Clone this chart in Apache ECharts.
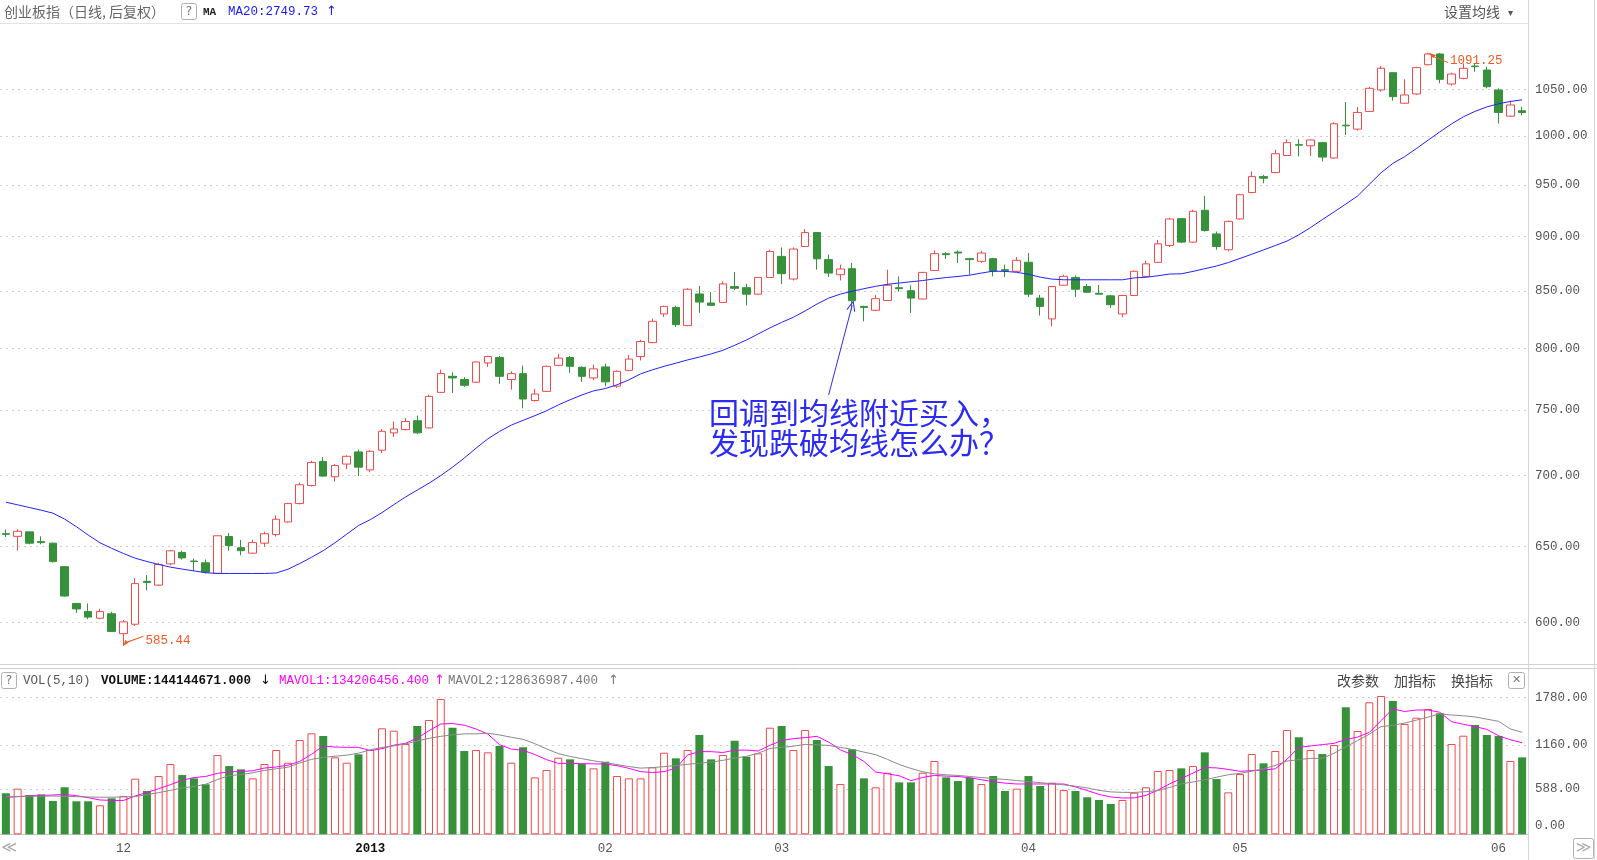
<!DOCTYPE html>
<html>
<head>
<meta charset="utf-8">
<title>创业板指 日线</title>
<script src="https://cdn.jsdelivr.net/npm/echarts@6/dist/echarts.min.js"></script>
<style>
html,body{margin:0;padding:0;background:#fff;}
#main{width:1597px;height:860px;}
</style>
</head>
<body>
<div id="main"></div>
<script>
// trading days, Nov 2012 - Jun 2013
var tradeMonths = [
    ['2012-11', [19,20,21,22,23,26,27,28,29,30]],
    ['2012-12', [3,4,5,6,7,10,11,12,13,14,17,18,19,20,21,24,25,26,27,28,31]],
    ['2013-01', [4,7,8,9,10,11,14,15,16,17,18,21,22,23,24,25,28,29,30,31]],
    ['2013-02', [1,4,5,6,7,8,18,19,20,21,22,25,26,27,28]],
    ['2013-03', [1,4,5,6,7,8,11,12,13,14,15,18,19,20,21,22,25,26,27,28,29]],
    ['2013-04', [1,2,3,8,9,10,11,12,15,16,17,18,19,22,23,24,25,26]],
    ['2013-05', [2,3,6,7,8,9,10,13,14,15,16,17,20,21,22,23,24,27,28,29,30,31]],
    ['2013-06', [3,4,5]]
];

var opens = [658.6,656.8,659.9,653.2,652.1,636.2,612.1,607.0,602.7,605.5,
    593.0,598.9,626.5,624.0,638.1,645.8,640.0,638.8,631.8,656.7,
    649.0,645.3,652.1,658.0,666.8,679.8,692.8,710.6,699.2,708.6,
    717.7,704.3,719.0,732.2,734.7,741.6,736.0,764.0,777.0,774.4,
    772.2,788.0,792.5,774.4,779.2,757.5,764.8,786.0,792.5,784.4,
    775.7,784.7,769.0,781.9,793.3,805.0,829.6,835.3,819.5,847.2,
    839.2,839.7,853.8,852.8,847.0,862.0,881.3,860.6,890.5,903.6,
    878.3,864.5,870.0,836.2,832.8,841.4,852.8,850.1,842.7,868.4,
    883.8,885.3,879.2,876.7,879.2,869.1,867.6,875.9,843.5,825.3,
    855.0,862.0,853.8,847.8,845.5,829.6,845.8,863.0,875.8,891.5,
    916.9,894.6,925.0,902.3,887.5,916.6,942.4,958.3,962.4,979.8,
    991.0,989.8,993.1,977.2,1011.5,1007.3,1026.2,1049.6,1068.8,1035.1,
    1045.2,1077.8,1090.0,1056.2,1062.5,1076.3,1071.8,1049.6,1021.1,1026.9];

var closes = [658.2,660.3,652.1,652.5,639.6,616.9,608.6,603.4,607.0,594.4,
    600.4,625.0,625.7,637.7,646.9,642.1,639.6,632.6,657.2,650.4,
    647.0,652.5,658.6,668.7,679.8,693.4,709.8,699.7,707.5,714.4,
    706.3,718.2,733.4,735.2,741.0,732.2,760.8,779.2,775.7,769.7,
    788.8,793.3,777.0,779.2,758.7,762.7,785.2,792.0,785.2,777.0,
    783.1,772.5,781.1,791.2,805.9,823.2,836.2,820.3,851.4,840.0,
    837.1,856.2,852.3,847.0,862.0,885.9,865.4,888.1,903.6,879.0,
    866.0,869.7,841.2,835.3,843.0,855.0,851.9,843.5,866.6,883.8,
    882.9,884.4,878.3,884.4,867.6,868.2,877.7,847.0,836.2,853.8,
    863.0,851.4,848.7,847.0,837.7,845.8,867.6,874.4,893.0,916.6,
    894.6,924.0,905.6,890.5,914.3,940.2,958.3,956.7,981.6,993.1,
    990.5,995.9,978.2,1013.0,1010.8,1025.1,1051.4,1073.8,1042.2,1044.1,
    1074.5,1090.0,1061.4,1067.3,1073.8,1075.6,1053.2,1025.1,1033.2,1025.0];

var lows = [656.3,647.0,651.3,651.3,639.0,616.5,606.0,602.0,602.0,594.0,
    585.44,597.8,620.6,623.5,637.0,641.0,633.3,631.7,631.5,647.0,
    643.8,644.9,649.7,656.7,666.3,679.2,692.1,699.2,695.7,704.8,
    699.7,702.5,716.9,729.1,734.2,731.4,735.5,763.5,763.5,768.4,
    771.7,784.7,770.9,766.2,751.3,756.7,764.3,785.2,779.8,772.5,
    773.8,769.0,767.6,781.1,790.1,804.5,827.0,818.4,819.0,830.5,
    837.0,839.2,850.7,837.1,846.5,861.5,856.0,859.3,890.0,869.1,
    862.4,859.3,832.8,823.2,832.2,841.0,849.2,830.5,842.5,868.0,
    878.9,875.3,864.5,875.3,863.0,862.4,867.0,844.4,828.2,818.9,
    854.7,844.4,848.4,846.9,834.8,826.7,845.5,862.4,875.3,890.0,
    893.7,894.0,904.6,887.5,886.0,915.9,941.7,951.6,961.8,979.5,
    978.8,979.5,973.7,976.5,1001.1,1005.8,1025.6,1047.7,1037.8,1034.3,
    1044.1,1077.0,1057.0,1054.3,1061.4,1069.9,1051.4,1013.2,1020.5,1022.0];

var highs = [661.5,661.7,660.0,656.8,652.5,636.5,612.3,612.1,608.6,606.8,
    601.5,628.5,630.7,638.8,647.5,647.0,641.6,641.0,657.5,659.1,
    654.4,654.4,660.0,671.5,680.3,695.0,711.1,713.9,708.6,715.1,
    719.5,719.0,735.2,741.0,743.6,745.6,762.2,782.5,780.3,776.2,
    789.3,793.9,793.9,781.1,785.8,766.8,785.8,795.5,793.9,785.2,
    786.6,787.4,781.9,794.7,807.3,825.6,836.8,836.8,852.3,854.4,
    848.7,858.4,866.9,856.2,862.4,887.5,889.6,889.6,906.9,904.0,
    882.9,873.7,875.3,836.8,846.4,869.1,863.0,855.0,867.0,886.8,
    885.3,886.8,879.8,886.5,880.0,873.7,880.7,884.4,846.4,854.5,
    864.5,863.7,856.2,855.3,846.4,846.4,868.2,877.4,896.7,917.6,
    917.6,925.6,939.2,904.6,915.0,941.2,963.4,960.1,985.7,996.6,
    996.6,996.5,994.0,1014.6,1036.3,1031.0,1053.1,1076.3,1069.0,1061.4,
    1075.6,1091.25,1091.0,1068.8,1079.2,1079.2,1075.6,1051.4,1037.8,1031.4];

// MA20
var ma20 = [680.8,678.9,677.0,675.1,673.0,668.8,663.5,657.7,652.4,648.6,
    645.1,641.9,639.7,637.7,635.9,634.6,633.4,632.2,631.7,631.7,
    631.7,631.7,631.7,632.0,634.5,638.3,642.5,647.0,652.4,658.3,
    664.3,668.4,673.4,679.0,684.5,689.5,694.5,700.1,706.3,713.1,
    720.5,727.6,733.3,738.2,741.9,745.5,749.4,754.0,758.1,761.9,
    765.2,767.1,770.1,774.1,779.0,782.3,785.2,787.8,790.5,792.9,
    795.5,798.5,802.7,807.2,812.3,817.5,822.3,826.7,832.2,838.2,
    843.5,847.1,849.6,851.9,854.0,855.8,857.0,858.1,859.2,860.7,
    861.9,862.9,864.1,866.0,867.7,867.5,866.7,864.9,862.3,860.5,
    859.9,859.9,859.9,859.9,859.9,859.9,861.6,862.2,863.5,865.1,
    865.3,867.5,870.0,872.4,875.6,879.4,883.3,887.3,891.4,895.6,
    901.5,908.4,916.0,923.4,931.1,939.0,950.6,962.2,971.7,978.6,
    986.9,995.7,1004.4,1012.9,1020.4,1026.3,1031.1,1034.5,1037.0,1038.8];

var volumes = [533,593,511,519,433,611,429,429,377,468,
    498,723,563,757,913,770,727,650,1030,887,
    844,727,913,1095,930,1225,1312,1277,1000,930,
    1039,1095,1377,1346,1173,1407,1485,1758,1385,1082,
    1095,1065,1147,930,1130,740,835,995,974,913,
    857,943,757,727,727,870,1060,987,1095,1290,
    974,1030,1216,1008,1052,1385,1407,1095,1355,1225,
    887,653,1104,727,611,800,675,675,800,952,
    740,692,735,653,757,563,593,757,628,671,
    575,563,481,446,394,446,541,611,822,835,
    857,887,1065,718,545,783,1043,922,1082,1355,
    1260,1095,1043,1160,1650,1342,1715,1797,1732,1433,
    1515,1628,1572,1173,1281,1420,1290,1277,952,1000];

var mavol5 = [480,489,498,504,511,517,502,476,446,441,
    439,498,543,593,645,702,737,752,792,812,
    816,825,861,875,898,947,1039,1147,1134,1130,
    1130,1088,1113,1158,1182,1251,1347,1433,1440,1417,
    1369,1303,1165,1107,1091,1037,970,922,922,918,
    916,913,892,857,814,803,814,861,1030,1074,
    1074,1063,1093,1094,1082,1156,1218,1243,1256,1273,
    1199,1097,1035,948,809,786,761,697,739,765,
    756,751,735,709,684,665,654,654,654,654,
    654,615,569,519,485,472,473,506,574,654,
    725,796,867,863,843,819,827,835,851,975,
    1129,1148,1165,1182,1230,1264,1324,1477,1630,1595,
    1615,1615,1585,1463,1429,1400,1363,1280,1228,1191];

var mavol10 = [489,491,493,495,498,493,489,485,482,482,
    486,490,515,541,571,603,621,650,712,762,
    776,799,830,851,872,927,974,998,1015,1028,
    1054,1098,1128,1149,1174,1212,1248,1273,1292,1305,
    1306,1313,1291,1261,1234,1178,1110,1048,1012,983,
    955,931,906,880,860,867,879,893,910,924,
    938,961,991,1013,1053,1115,1130,1145,1168,1163,
    1155,1129,1103,1068,1035,974,907,856,812,786,
    773,765,751,737,725,713,699,685,671,657,
    642,626,602,571,551,545,544,554,567,608,
    656,680,708,742,774,793,820,851,895,952,
    970,987,987,1054,1137,1218,1301,1400,1416,1446,
    1483,1523,1566,1550,1540,1525,1496,1468,1369,1326];

var priceTicks = [600, 650, 700, 750, 800, 850, 900, 950, 1000, 1050];
var volTicks = [0, 588, 1160, 1780];

var RED = '#f04a4a';
var GREEN = '#37913a';
var MONO = '"Liberation Mono", "DejaVu Sans Mono", monospace';
var CJK = '"Noto Sans CJK SC", sans-serif';

var dates = [];
var monthStart = [];
tradeMonths.forEach(function (m) {
    m[1].forEach(function (d, k) {
        dates.push(m[0] + '-' + (d < 10 ? '0' + d : d));
        monthStart.push(k === 0 && m[0] !== '2012-11');
    });
});

var candles = opens.map(function (o, i) {
    return [o, closes[i], lows[i], highs[i]];
});
var volBars = volumes.map(function (v, i) {
    var up = closes[i] >= opens[i];
    return {
        value: v,
        itemStyle: up ? {color: '#fff', borderColor: RED, borderWidth: 1} : {color: GREEN}
    };
});

// lowest low / highest high for the price tags
var lowIdx = 0, highIdx = 0;
for (var i = 1; i < lows.length; i++) {
    if (lows[i] < lows[lowIdx]) lowIdx = i;
    if (highs[i] > highs[highIdx]) highIdx = i;
}

function txt(x, y, text, font, fill, align) {
    return {type: 'text', x: x, y: y, silent: true, z: 100,
        style: {text: text, font: font, fill: fill, align: align || 'left', verticalAlign: 'middle'}};
}
function line(x1, y1, x2, y2, color) {
    return {type: 'line', silent: true, z: 90,
        shape: {x1: x1, y1: y1, x2: x2, y2: y2}, style: {stroke: color, lineWidth: 1}};
}
function box(x, y, w, h) {
    return {type: 'rect', silent: true, z: 95,
        shape: {x: x, y: y, width: w, height: h, r: 2}, style: {fill: '#fff', stroke: '#b0b0b0', lineWidth: 1}};
}

var graphics = [
    line(0, 23.5, 1528, 23.5, '#e3e3e3'),
    line(1528.5, 0, 1528.5, 860, '#d6d6d6'),
    line(1594.5, 0, 1594.5, 860, '#d6d6d6'),
    line(0, 664.5, 1597, 664.5, '#d0d0d0'),
    line(0, 668.5, 1597, 668.5, '#d0d0d0'),

    txt(4, 12, '创业板指（日线, 后复权）', '14px ' + CJK, '#666'),
    box(181.5, 3.5, 15, 16),
    txt(189, 12, '?', '12px "DejaVu Sans"', '#777', 'center'),
    txt(203, 12, 'MA', 'bold 11px ' + MONO, '#222'),
    txt(228, 12, 'MA20:2749.73', '12.5px ' + MONO, '#1a1aff'),
    txt(326, 12, '↑', '13px "DejaVu Sans"', '#1a1aff'),
    txt(1444, 12, '设置均线', '14px ' + CJK, '#555'),
    txt(1508, 13, '▾', '10px "DejaVu Sans"', '#555'),

    box(1.5, 672.5, 15, 16),
    txt(9, 680.5, '?', '12px "DejaVu Sans"', '#777', 'center'),
    txt(23, 680.5, 'VOL(5,10)', '12.5px ' + MONO, '#555'),
    txt(101, 680.5, 'VOLUME:144144671.000', 'bold 12.5px ' + MONO, '#111'),
    txt(260, 680.5, '↓', '13px "DejaVu Sans"', '#111'),
    txt(279, 680.5, 'MAVOL1:134206456.400', '12.5px ' + MONO, '#ff00ff'),
    txt(434, 680.5, '↑', '13px "DejaVu Sans"', '#ff00ff'),
    txt(448, 680.5, 'MAVOL2:128636987.400', '12.5px ' + MONO, '#777'),
    txt(608, 680.5, '↑', '13px "DejaVu Sans"', '#777'),
    txt(1337, 680.5, '改参数', '14px ' + CJK, '#444'),
    txt(1394, 680.5, '加指标', '14px ' + CJK, '#444'),
    txt(1451, 680.5, '换指标', '14px ' + CJK, '#444'),
    box(1508.5, 672.5, 16, 16),
    txt(1516.5, 680.5, '✕', '11px "DejaVu Sans"', '#777', 'center'),

    txt(9, 848.5, '≪', '15px "DejaVu Sans"', '#aaa', 'center'),
    box(1573.5, 838.5, 20, 20),
    txt(1583.5, 848.5, '≫', '15px "DejaVu Sans"', '#aaa', 'center'),

    {type: 'text', x: 709, y: 398, silent: true, z: 100,
        style: {text: '回调到均线附近买入，\n发现跌破均线怎么办？', font: '30px ' + CJK,
            fill: '#2b2bf5', lineHeight: 29.5, align: 'left', verticalAlign: 'top'}}
];

var chart = echarts.init(document.getElementById('main'));
chart.setOption({
    animation: false,
    backgroundColor: '#fff',
    graphic: graphics,
    grid: [
        {left: -2, right: 69, top: 25, height: 639},
        {left: -2, right: 69, top: 684, height: 150.3}
    ],
    xAxis: [
        {type: 'category', gridIndex: 0, data: dates, boundaryGap: true,
            axisLine: {show: false}, axisTick: {show: false}, axisLabel: {show: false}, splitLine: {show: false}},
        {type: 'category', gridIndex: 1, data: dates, boundaryGap: true,
            axisLine: {lineStyle: {color: '#c4c4c4'}},
            axisTick: {show: false},
            axisLabel: {
                interval: function (idx) { return monthStart[idx]; },
                formatter: function (v) {
                    var m = v.slice(5, 7);
                    return m === '01' ? '{y|' + v.slice(0, 4) + '}' : m;
                },
                margin: 8, color: '#555', fontFamily: MONO, fontSize: 12.5,
                rich: {y: {color: '#111', fontWeight: 'bold', fontFamily: MONO, fontSize: 12.5}}
            }}
    ],
    yAxis: [
        {type: 'log', logBase: 10, gridIndex: 0, position: 'right', min: 574.4, max: 1123.7,
            axisLine: {show: false},
            axisTick: {show: false, customValues: priceTicks},
            axisLabel: {customValues: priceTicks, formatter: function (v) { return Number(v).toFixed(2); },
                color: '#555', fontFamily: MONO, fontSize: 12.5, margin: 7},
            splitLine: {show: true, lineStyle: {color: '#cfcfcf', type: [2, 4]}}},
        {type: 'value', gridIndex: 1, position: 'right', min: 0, max: 1953,
            axisLine: {show: false},
            axisTick: {show: false, customValues: volTicks},
            axisLabel: {customValues: volTicks,
                formatter: function (v) {
                    var s = Number(v).toFixed(2);
                    return Number(v) === 0 ? '{z|' + s + '}' : s;
                },
                rich: {z: {padding: [0, 0, 18, 0], color: '#555', fontFamily: MONO, fontSize: 12.5}},
                color: '#555', fontFamily: MONO, fontSize: 12.5, margin: 7},
            splitLine: {show: true, lineStyle: {color: '#cfcfcf', type: [2, 4]}}}
    ],
    series: [
        {
            name: 'K', type: 'candlestick', xAxisIndex: 0, yAxisIndex: 0,
            data: candles, barWidth: 8,
            itemStyle: {color: '#fff', color0: GREEN, borderColor: RED, borderColor0: GREEN, borderWidth: 1},
            markPoint: {
                silent: true,
                data: [
                    {coord: [dates[lowIdx], lows[lowIdx]], value: lows[lowIdx],
                        symbol: 'path://M0,10 L2,4 L5,7 Z M3,6 L20,0 L20,1 L4,7 Z',
                        symbolSize: [20, 10], symbolOffset: [10, -5],
                        label: {formatter: lows[lowIdx].toFixed(2)}},
                    {coord: [dates[highIdx], highs[highIdx]], value: highs[highIdx],
                        symbol: 'path://M0,0 L8,2 L5,5 Z M5,3 L20,9 L20,10 L5,4 Z',
                        symbolSize: [20, 10], symbolOffset: [10, 5],
                        label: {formatter: highs[highIdx].toFixed(2), offset: [0, 3]}}
                ],
                itemStyle: {color: '#ee5a24'},
                label: {show: true, position: 'right', distance: 2, color: '#ee5a24',
                    fontFamily: MONO, fontSize: 12.5}
            }
        },
        {
            name: 'MA20', type: 'line', xAxisIndex: 0, yAxisIndex: 0,
            data: ma20, symbol: 'none', lineStyle: {color: '#2222ff', width: 1},
            markLine: {
                silent: true,
                symbol: ['none', 'path://M0,10 L5,0 L10,10 L9,10.5 L5,2.5 L1,10.5 Z'],
                symbolSize: [9, 11],
                lineStyle: {color: '#2b2bf5', width: 1, type: 'solid'},
                label: {show: false},
                data: [[{coord: [dates[70], 762]}, {coord: [dates[72], 837]}]]
            }
        },
        {
            name: 'VOL', type: 'bar', xAxisIndex: 1, yAxisIndex: 1,
            data: volBars, barWidth: 8
        },
        {
            name: 'MAVOL1', type: 'line', xAxisIndex: 1, yAxisIndex: 1,
            data: mavol5, symbol: 'none', lineStyle: {color: '#ff00ff', width: 1}
        },
        {
            name: 'MAVOL2', type: 'line', xAxisIndex: 1, yAxisIndex: 1,
            data: mavol10, symbol: 'none', lineStyle: {color: '#8a8a8a', width: 1}
        }
    ]
});
</script>
</body>
</html>
